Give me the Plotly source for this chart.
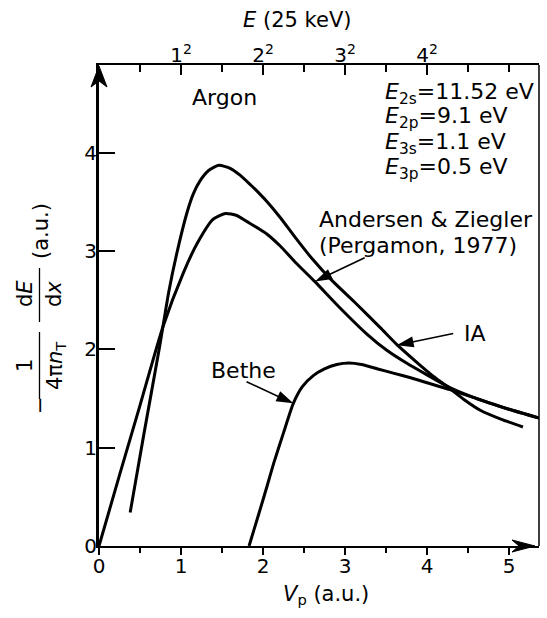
import math
import plotly.graph_objects as go

# ---- data: stopping power of argon vs projectile velocity ----
ia_v = [0.38, 0.55, 0.74, 0.85, 0.95, 1.07, 1.15, 1.23, 1.34, 1.46, 1.60, 1.72, 1.85, 1.96,
        2.05, 2.21, 2.40, 2.60, 2.84, 3.14, 3.43, 3.63, 3.90, 4.10, 4.28, 4.45, 4.65, 4.90, 5.17]
ia_s = [0.34, 1.15, 2.03, 2.58, 2.98, 3.38, 3.58, 3.71, 3.82, 3.87, 3.84, 3.77, 3.67, 3.58,
        3.50, 3.34, 3.13, 2.92, 2.70, 2.46, 2.22, 2.05, 1.85, 1.71, 1.60, 1.49, 1.38, 1.29, 1.21]

az_v = [0.0, 0.25, 0.50, 0.78, 1.03, 1.20, 1.39, 1.54, 1.68, 1.80, 1.96, 2.05, 2.21, 2.40,
        2.63, 2.94, 3.26, 3.51, 3.75, 4.00, 4.28, 4.60, 5.00, 5.37]
az_s = [0.0, 0.72, 1.43, 2.23, 2.78, 3.08, 3.32, 3.38, 3.36, 3.30, 3.22, 3.17, 3.05, 2.88,
        2.69, 2.42, 2.16, 1.99, 1.86, 1.74, 1.61, 1.50, 1.39, 1.30]

bethe_v = [1.83, 1.95, 2.05, 2.13, 2.25, 2.37, 2.48, 2.61, 2.75, 2.90, 3.05, 3.20, 3.40, 3.60,
           3.80, 4.00, 4.28, 4.60, 5.00, 5.37]
bethe_s = [0.00, 0.33, 0.61, 0.84, 1.15, 1.45, 1.62, 1.73, 1.80, 1.845, 1.86, 1.845, 1.80, 1.755,
           1.71, 1.66, 1.59, 1.50, 1.39, 1.30]

x_ticks = [0, 1, 2, 3, 4, 5]
y_ticks = [0, 1, 2, 3, 4]
top_ticks = [1, 2, 3, 4]
top_labels = ["1<sup>2</sup>", "2<sup>2</sup>", "3<sup>2</sup>", "4<sup>2</sup>"]
level_lines = ["<i>E</i><sub>2s</sub>=11.52 eV", "<i>E</i><sub>2p</sub>=9.1 eV",
               "<i>E</i><sub>3s</sub>=1.1 eV", "<i>E</i><sub>3p</sub>=0.5 eV"]

# ---- geometry ----
W, H = 547, 618
ML, MR, MT, MB = 99, 8, 65, 72
PW, PH = W - ML - MR, H - MT - MB
XMAX, YMAX = 5.366, 4.89
SX, SY = PW / XMAX, PH / YMAX
FONT = "DejaVu Sans"
INK = "#000000"


def px(xp):
    return (xp - ML) / PW


def py(yp):
    return (H - MB - yp) / PH


fig = go.Figure()
curve = dict(color=INK, width=3, shape="spline", smoothing=0.6)
fig.add_trace(go.Scatter(x=ia_v, y=ia_s, mode="lines", line=curve, name="IA"))
fig.add_trace(go.Scatter(x=az_v, y=az_s, mode="lines", line=curve, name="Andersen & Ziegler"))
fig.add_trace(go.Scatter(x=bethe_v, y=bethe_s, mode="lines", line=curve, name="Bethe"))
# carrier for the top (energy) axis
fig.add_trace(go.Scatter(x=[None], y=[None], xaxis="x2", mode="lines", showlegend=False))

shapes = []
annotations = []


def pointer(tail, tip, head_len=17, head_w=11, width=1.6):
    dx = (tip[0] - tail[0]) * SX
    dy = (tip[1] - tail[1]) * SY
    n = math.hypot(dx, dy)
    ux, uy = dx / n, dy / n
    bx, by = tip[0] - ux * head_len * 0.8 / SX, tip[1] - uy * head_len * 0.8 / SY
    shapes.append(dict(type="line", xref="x", yref="y", x0=tail[0], y0=tail[1], x1=bx, y1=by,
                       line=dict(color=INK, width=width)))
    hx, hy = -ux * head_len, -uy * head_len
    nx, ny = -uy, ux
    p1 = (hx + nx * head_w / 2, hy + ny * head_w / 2)
    p2 = (hx - nx * head_w / 2, hy - ny * head_w / 2)
    path = f"M0,0 L{p1[0]:.2f},{p1[1]:.2f} L{p2[0]:.2f},{p2[1]:.2f} Z"
    shapes.append(dict(type="path", xref="x", yref="y", xsizemode="pixel", ysizemode="pixel",
                       xanchor=tip[0], yanchor=tip[1], path=path, fillcolor=INK,
                       line=dict(width=0)))


pointer((1.80, 1.67), (2.37, 1.45))
pointer((4.32, 2.16), (3.63, 2.04))
pointer((3.24, 2.93), (2.634, 2.69))

# axis arrowheads (paper-referenced so they are not clipped)
shapes.append(dict(type="path", xref="paper", yref="paper", xsizemode="pixel", ysizemode="pixel",
                   xanchor=0, yanchor=py(66), path="M0,0 L-8,-21 L0,-15 L8,-21 Z",
                   fillcolor=INK, line=dict(color=INK, width=1)))
shapes.append(dict(type="path", xref="paper", yref="paper", xsizemode="pixel", ysizemode="pixel",
                   xanchor=px(535), yanchor=0, path="M0,0 L-23,6 L-16,0 L-23,-6 Z",
                   fillcolor=INK, line=dict(color=INK, width=1)))
# right frame edge
shapes.append(dict(type="line", xref="paper", yref="paper", x0=1, x1=1, y0=0, y1=1,
                   line=dict(color=INK, width=1.5)))


def text(s, xp, yp, size=22, xanchor="left", angle=0):
    annotations.append(dict(text=s, x=px(xp), y=py(yp), xref="paper", yref="paper",
                            xanchor=xanchor, yanchor="middle", showarrow=False,
                            textangle=angle, font=dict(family=FONT, size=size, color=INK)))


text("Argon", 190, 97)
for i, s in enumerate(level_lines):
    text(s, 383, 93 + 25 * i)
text("Andersen &amp; Ziegler", 317, 220)
text("(Pergamon, 1977)", 317, 245)
text("Bethe", 209, 370)
text("IA", 462, 333)

# axis titles
text("<i>E</i> (25 keV)", 297, 20, size=21, xanchor="center")
text("<i>V</i><sub>p</sub> (a.u.)", 326, 595, size=21, xanchor="center")

# stacked-fraction y title
text("(a.u.)", 41, 231, size=21, xanchor="center", angle=-90)
text("d<i>E</i>", 25, 294, size=21, xanchor="center", angle=-90)
text("d<i>x</i>", 54, 294, size=21, xanchor="center", angle=-90)
text("1", 25, 366, size=21, xanchor="center", angle=-90)
text("4π<i>n</i><sub>T</sub>", 56, 366, size=21, xanchor="center", angle=-90)
text("−", 40, 405, size=21, xanchor="center", angle=-90)
for y0, y1 in [(268, 322), (332, 399)]:
    shapes.append(dict(type="line", xref="paper", yref="paper", x0=px(39.5), x1=px(39.5),
                       y0=py(y0), y1=py(y1), line=dict(color=INK, width=1.3)))

tickfont = dict(family=FONT, size=20, color=INK)
fig.update_layout(
    width=W, height=H, margin=dict(l=ML, r=MR, t=MT, b=MB, pad=0),
    paper_bgcolor="white", plot_bgcolor="white", showlegend=False,
    font=dict(family=FONT, color=INK),
    xaxis=dict(range=[0, XMAX], tickvals=x_ticks, ticks="outside", ticklen=7, tickwidth=1.5,
               tickcolor=INK, showline=True, linewidth=2, linecolor=INK, showgrid=False,
               zeroline=False, tickfont=tickfont, ticklabelstandoff=-6,
               minor=dict(dtick=0.5, tick0=0, ticks="outside", ticklen=5, tickwidth=1.5,
                          tickcolor=INK, showgrid=False)),
    xaxis2=dict(range=[0, XMAX], overlaying="x", side="top", tickvals=top_ticks,
                ticktext=top_labels, ticks="inside", ticklen=10, tickwidth=1.5, tickcolor=INK,
                showline=True, linewidth=1.5, linecolor=INK, showgrid=False, zeroline=False,
                tickfont=tickfont, ticklabelstandoff=-7,
                minor=dict(tickvals=[0.5, 1.5, 2.5, 3.5, 4.5, 5], ticks="inside", ticklen=7,
                           tickwidth=1.5, tickcolor=INK, showgrid=False)),
    yaxis=dict(range=[0, YMAX], tickvals=y_ticks, ticks="inside", ticklen=16, tickwidth=2,
               tickcolor=INK, showline=True, linewidth=3, linecolor=INK, showgrid=False,
               zeroline=False, tickfont=tickfont, ticklabelstandoff=-5),
    shapes=shapes, annotations=annotations,
)

fig.write_html("out.html")
